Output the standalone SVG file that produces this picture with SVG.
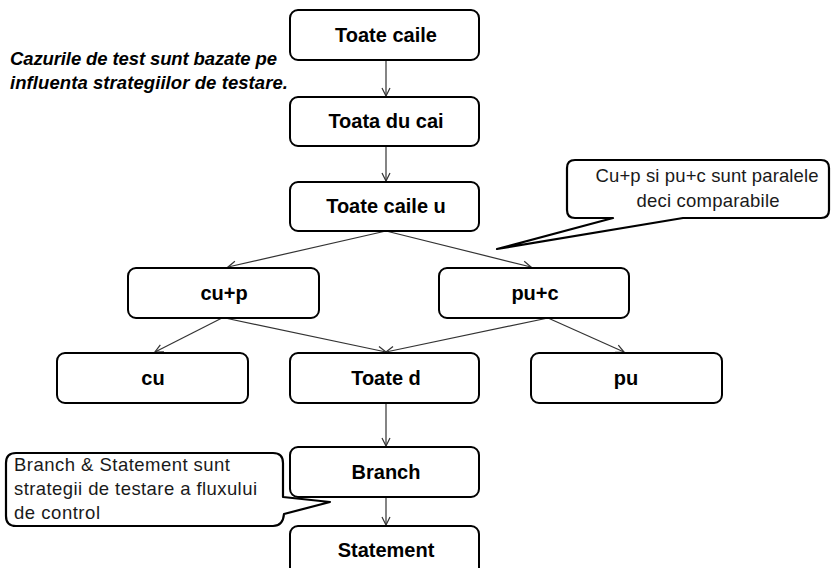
<svg xmlns="http://www.w3.org/2000/svg" width="831" height="568" viewBox="0 0 831 568">
<defs>
<style>
.box{fill:#fff;stroke:#000;stroke-width:2}
.lbl{font-family:"Liberation Sans",Arial,sans-serif;font-weight:bold;font-size:20px;fill:#000;text-anchor:middle}
.note{font-family:"Liberation Sans",Arial,sans-serif;font-size:18.5px;fill:#1a1a1a}
.call{fill:#fff;stroke:#000;stroke-width:2.2;stroke-linejoin:round}
.con{stroke:#333;stroke-width:1.2;fill:none;marker-end:url(#arr)}
.title{font-family:"Liberation Sans",Arial,sans-serif;font-weight:bold;font-style:italic;font-size:18.5px;fill:#000}
</style>
<marker id="arr" markerUnits="userSpaceOnUse" markerWidth="10" markerHeight="10" refX="9" refY="5" orient="auto">
<path d="M1,1 L9,5 L1,9" fill="none" stroke="#333" stroke-width="1.2"/>
</marker>
</defs>
<rect width="831" height="568" fill="#fff"/>

<g id="title">
<text class="title" x="10" y="65" textLength="267">Cazurile de test sunt bazate pe</text>
<text class="title" x="10" y="89" textLength="278">influenta strategiilor de testare.</text>
</g>

<g id="connectors">
<line class="con" x1="386" y1="60" x2="386" y2="96"/>
<line class="con" x1="386" y1="146" x2="386" y2="181"/>
<line class="con" x1="386" y1="231" x2="228" y2="267"/>
<line class="con" x1="386" y1="231" x2="531" y2="267"/>
<line class="con" x1="222" y1="318" x2="155" y2="352"/>
<line class="con" x1="225" y1="318" x2="386" y2="352"/>
<line class="con" x1="548" y1="318" x2="386" y2="352"/>
<line class="con" x1="548" y1="318" x2="624" y2="352"/>
<line class="con" x1="386" y1="403" x2="386" y2="446"/>
<line class="con" x1="386" y1="497" x2="386" y2="525"/>
</g>

<g id="n-toate-caile">
<rect class="box" x="290" y="10" width="189" height="50" rx="8"/>
<text class="lbl" x="386" y="42">Toate caile</text>
</g>
<g id="n-toata-du-cai">
<rect class="box" x="290" y="97" width="189" height="49" rx="8"/>
<text class="lbl" x="386" y="128">Toata du cai</text>
</g>
<g id="n-toate-caile-u">
<rect class="box" x="290" y="182" width="189" height="49" rx="8"/>
<text class="lbl" x="386" y="213">Toate caile u</text>
</g>
<g id="n-cup">
<rect class="box" x="128" y="268" width="191" height="50" rx="8"/>
<text class="lbl" x="224" y="300">cu+p</text>
</g>
<g id="n-puc">
<rect class="box" x="439" y="268" width="190" height="50" rx="8"/>
<text class="lbl" x="535" y="300">pu+c</text>
</g>
<g id="n-cu">
<rect class="box" x="57" y="353" width="191" height="50" rx="8"/>
<text class="lbl" x="153" y="385">cu</text>
</g>
<g id="n-toate-d">
<rect class="box" x="290" y="353" width="189" height="50" rx="8"/>
<text class="lbl" x="386" y="385">Toate d</text>
</g>
<g id="n-pu">
<rect class="box" x="531" y="353" width="191" height="50" rx="8"/>
<text class="lbl" x="626" y="385">pu</text>
</g>
<g id="n-branch">
<rect class="box" x="290" y="447" width="189" height="50" rx="8"/>
<text class="lbl" x="386" y="479">Branch</text>
</g>
<g id="n-statement">
<rect class="box" x="290" y="526" width="189" height="50" rx="8"/>
<text class="lbl" x="386" y="557">Statement</text>
</g>

<g id="callout-top">
<path class="call" d="M575,160 H821 Q829,160 829,168 V210 Q829,218 821,218 H683 L497,249 L613,218 H575 Q567,218 567,210 V168 Q567,160 575,160 Z"/>
<text class="note" x="707" y="182" text-anchor="middle" textLength="223">Cu+p si pu+c sunt paralele</text>
<text class="note" x="708" y="207" text-anchor="middle" textLength="143">deci comparabile</text>
</g>

<g id="callout-bottom">
<path class="call" d="M16,453 H273 Q283,453 283,463 V497 L330,502 L284,514 Q283,526 273,526 H16 Q6,526 6,516 V463 Q6,453 16,453 Z"/>
<text class="note" x="14" y="471" textLength="216">Branch &amp; Statement sunt</text>
<text class="note" x="14" y="495" textLength="243">strategii de testare a fluxului</text>
<text class="note" x="14" y="519" textLength="86">de control</text>
</g>
</svg>
